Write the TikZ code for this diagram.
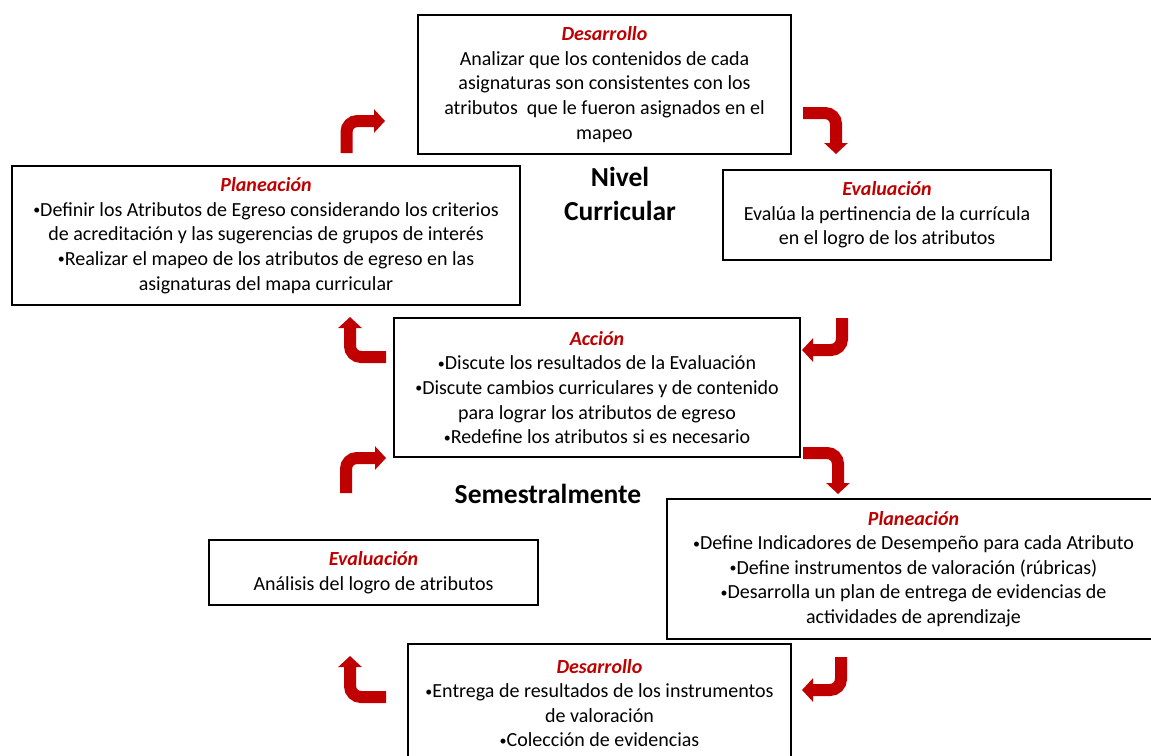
\documentclass[tikz,border=0pt]{standalone}
\usepackage{fontspec}
\setmainfont{Carlito}
\usetikzlibrary{arrows.meta}
\definecolor{rojo}{RGB}{192,0,0}
\newcommand{\titulo}[1]{{\color{rojo}\bfseries\itshape #1}}
\newcommand{\vin}{\raisebox{1.5pt}{\fontsize{14}{14}\selectfont •}}
\begin{document}
\begin{tikzpicture}[x=1pt,y=-1pt]
	\tikzstyle{caja} = [draw,line width=1.2pt,align=center,inner sep=0pt,font=\fontsize{20}{24.6}\selectfont]
	\tikzstyle{nivel} = [align=center,font=\fontsize{27.5}{34}\selectfont\bfseries]
	\tikzstyle{flecha} = [rojo,line width=12pt,rounded corners=11pt,-{Triangle[width=23pt,length=11pt]}]
	\clip (0,0) rectangle (1151,755);
	\fill[white] (0,0) rectangle (1151,755);
	% nivel curricular
	\node[caja,minimum width=373pt,minimum height=139pt](desCur)at(604.5,84.5){\titulo{Desarrollo}\\Analizar que los contenidos de cada\\asignaturas son consistentes con los\\atributos\ \ que le fueron asignados en el\\mapeo};
	\node[caja,minimum width=508pt,minimum height=139pt](plaCur)at(266,235.5){\titulo{Planeación}\\\vin Definir los Atributos de Egreso considerando los criterios\\de acreditación y las sugerencias de grupos de interés\\\vin Realizar el mapeo de los atributos de egreso en las\\asignaturas del mapa curricular};
	\node[caja,minimum width=328pt,minimum height=90pt](evaCur)at(887,215){\titulo{Evaluación}\\Evalúa la pertinencia de la currícula\\en el logro de los atributos};
	\node[caja,minimum width=406pt,minimum height=139pt](accion)at(597,387.5){\titulo{Acción}\\\vin Discute los resultados de la Evaluación\\\vin Discute cambios curriculares y de contenido\\para lograr los atributos de egreso\\\vin Redefine los atributos si es necesario};
	\node[nivel](curricular)at(620,194){Nivel\\Curricular};
	% semestralmente
	\node[nivel](semestral)at(548,494){Semestralmente};
	\node[caja,minimum width=493pt,minimum height=140pt](plaSem)at(913.5,569){\titulo{Planeación}\\\vin Define Indicadores de Desempeño para cada Atributo\\\vin Define instrumentos de valoración (rúbricas)\\\vin Desarrolla un plan de entrega de evidencias de\\actividades de aprendizaje};
	\node[caja,minimum width=329pt,minimum height=65pt](evaSem)at(373.5,572.5){\titulo{Evaluación}\\Análisis del logro de atributos};
	\node[caja,minimum width=383pt,minimum height=118pt](desSem)at(599.5,703){\titulo{Desarrollo}\\\vin Entrega de resultados de los instrumentos\\de valoración\\\vin Colección de evidencias};
	% flechas
	\coordinate(a1s)at(346.5,153); \coordinate(a1e)at(385,121);
	\coordinate(a2s)at(803,113); \coordinate(a2e)at(836,154);
	\coordinate(a3s)at(386,357); \coordinate(a3e)at(350,317);
	\coordinate(a4s)at(842,318); \coordinate(a4e)at(802,350);
	\coordinate(a5s)at(346,493); \coordinate(a5e)at(386,458);
	\coordinate(a6s)at(803,453); \coordinate(a6e)at(838,494);
	\coordinate(a7s)at(386,697); \coordinate(a7e)at(350,656);
	\coordinate(a8s)at(841,657); \coordinate(a8e)at(802,690);
	\draw[flecha] (a1s) |- (a1e);
	\draw[flecha] (a2s) -| (a2e);
	\draw[flecha] (a3s) -| (a3e);
	\draw[flecha] (a4s) |- (a4e);
	\draw[flecha] (a5s) |- (a5e);
	\draw[flecha] (a6s) -| (a6e);
	\draw[flecha] (a7s) -| (a7e);
	\draw[flecha] (a8s) |- (a8e);
\end{tikzpicture}
\end{document}
